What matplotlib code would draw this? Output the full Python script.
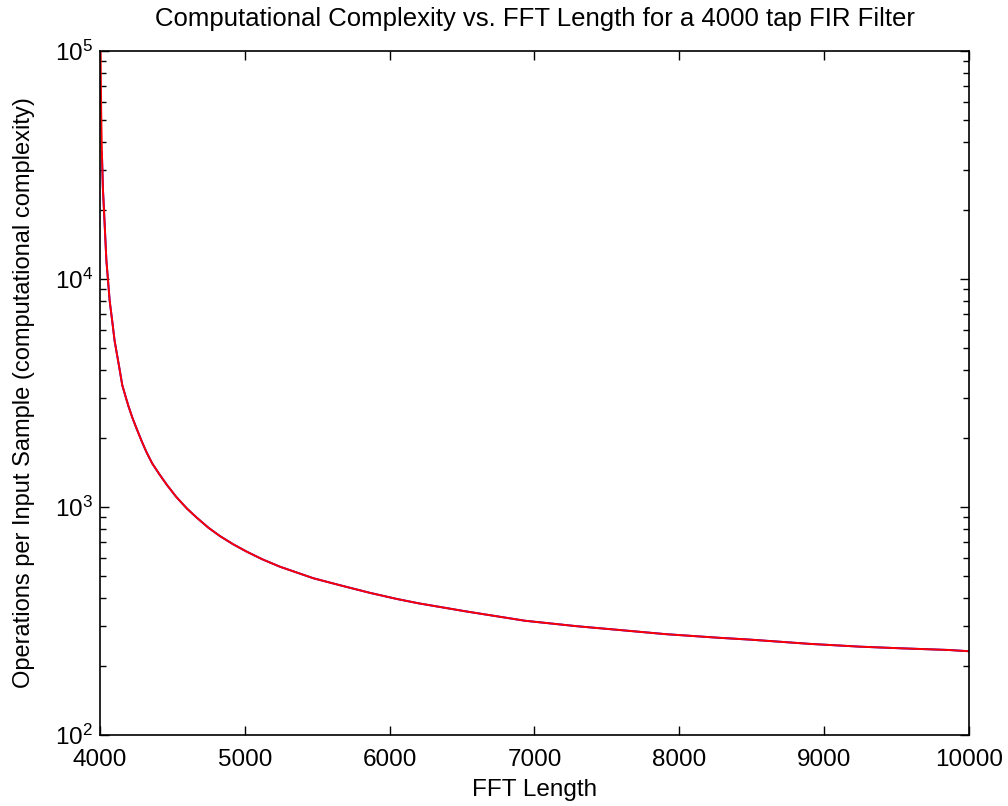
import numpy as np
import matplotlib
matplotlib.use('Agg')
import matplotlib.pyplot as plt
from matplotlib.ticker import LogLocator, FixedLocator

plt.rcParams['font.family'] = ['Liberation Sans', 'DejaVu Sans']

# values (FFT length -> operations per input sample)
fft_len = [4002, 4004, 4008, 4013, 4020, 4032, 4044, 4067, 4085, 4101,
           4130, 4154, 4180, 4198, 4225, 4255, 4290, 4322, 4360, 4409,
           4460, 4525, 4600, 4668, 4750, 4829, 4920, 5013, 5120, 5243,
           5473, 5650, 5865, 6050, 6200, 6532, 6935, 7292, 7580, 7902,
           8270, 8489, 8900, 9248, 9530, 9858, 10000]
ops_red = [1.6e5, 1.0e5, 5.6e4, 3.6e4, 2.5e4, 1.75e4, 1.21e4, 8.0e3, 6500, 5350,
           4200, 3420, 3000, 2750, 2450, 2190, 1930, 1735, 1555, 1395,
           1255, 1110, 985, 898, 810, 745, 686, 637, 590, 547,
           487, 455, 420, 395, 378, 348, 317, 300, 289, 277,
           267, 262, 251, 244, 240, 236, 233]
# blue series starts a little later, otherwise lies under the red one
blue_len = fft_len[3:]
ops_blue = ops_red[3:]

FS = 17.5

fig = plt.figure(figsize=(10.08, 8.06), dpi=100)
ax = fig.add_axes([0.0992, 0.0881, 0.8621, 0.8486])

ax.semilogy(blue_len, ops_blue, color='#0000ff', lw=1.4)
ax.semilogy(fft_len, ops_red, color='#ff0000', lw=1.4)

ax.set_xlim(4000, 10000)
ax.set_ylim(1e2, 1e5)
ax.xaxis.set_major_locator(FixedLocator([4000, 5000, 6000, 7000, 8000, 9000, 10000]))
ax.yaxis.set_major_locator(LogLocator(base=10, numticks=10))
ax.yaxis.set_minor_locator(LogLocator(base=10, subs=np.arange(2, 10), numticks=10))

ax.tick_params(which='both', direction='in', top=True, right=True,
               labelsize=FS, width=1.0, color='black')
ax.tick_params(which='major', length=6.5)
ax.tick_params(axis='x', which='major', pad=10)
ax.tick_params(axis='y', which='major', pad=5)
ax.tick_params(which='minor', length=4)
for s in ax.spines.values():
    s.set_linewidth(1.2)

ax.set_title('Computational Complexity vs. FFT Length for a 4000 tap FIR Filter',
             fontsize=18.5, pad=18)
ax.set_xlabel('FFT Length', fontsize=FS, labelpad=6)
ax.set_ylabel('Operations per Input Sample (computational complexity)',
              fontsize=17, labelpad=14)

fig.savefig('out.png', dpi=100)
